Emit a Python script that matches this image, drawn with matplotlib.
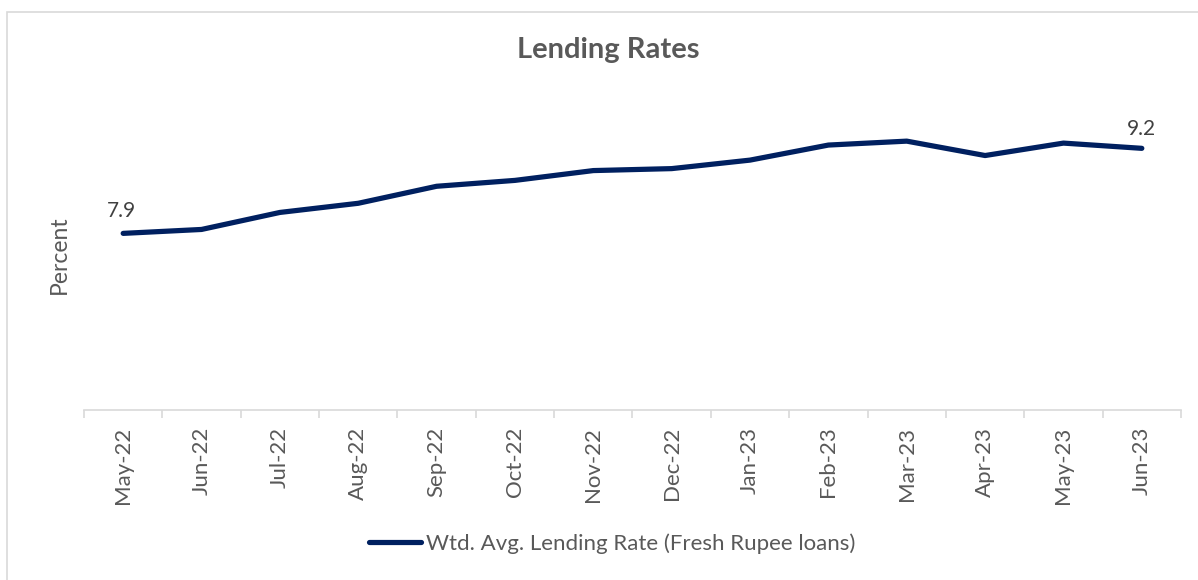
import matplotlib
matplotlib.use('Agg')

import matplotlib.pyplot as plt
from matplotlib.patches import Rectangle

# 데이터
months = ['May-22', 'Jun-22', 'Jul-22', 'Aug-22', 'Sep-22', 'Oct-22', 'Nov-22',
          'Dec-22', 'Jan-23', 'Feb-23', 'Mar-23', 'Apr-23', 'May-23', 'Jun-23']
walr_fresh = [7.90, 7.96, 8.22, 8.36, 8.62, 8.71, 8.86,
              8.89, 9.02, 9.25, 9.31, 9.09, 9.28, 9.20]
series_name = 'Wtd. Avg. Lending Rate (Fresh Rupee loans)'

plt.rcParams['font.family'] = ['Lato', 'DejaVu Sans']
text_gray = '#595959'
axis_gray = '#d9d9d9'
line_color = '#002060'

fig = plt.figure(figsize=(11.98, 5.80), dpi=100)
ax = fig.add_axes([84 / 1198, 1 - 410 / 580, (1181 - 84) / 1198, (410 - 96) / 580])

x = list(range(len(months)))
ax.plot(x, walr_fresh, color=line_color, linewidth=3.75, solid_capstyle='round',
        label=series_name)

# 처음과 마지막 값 라벨
ax.annotate(f'{walr_fresh[0]:.1f}', (x[0], walr_fresh[0]), xytext=(-1, 9),
            textcoords='offset points', ha='center', va='bottom',
            fontsize=15, color='#404040')
ax.annotate(f'{walr_fresh[-1]:.1f}', (x[-1], walr_fresh[-1]), xytext=(0, 7),
            textcoords='offset points', ha='center', va='bottom',
            fontsize=15, color='#404040')

ax.set_xlim(-0.5, len(months) - 0.5)
ax.set_ylim(5.2, 10.0)

ax.set_xticks(x)
ax.set_xticklabels(months, rotation=90, fontsize=16, color=text_gray)
ax.set_xticks([i - 0.5 for i in range(len(months) + 1)], minor=True)
ax.tick_params(axis='x', which='major', length=0, pad=12)
ax.tick_params(axis='x', which='minor', length=6, width=1.2, color=axis_gray)
ax.set_yticks([])

for side in ['top', 'right', 'left']:
    ax.spines[side].set_visible(False)
ax.spines['bottom'].set_color(axis_gray)
ax.spines['bottom'].set_linewidth(1.2)

ax.set_ylabel('Percent', fontsize=16.5, color=text_gray)
ax.yaxis.set_label_coords(-0.013, 0.495)

fig.text(0.508, 0.914, 'Lending Rates', ha='center', va='center',
         fontsize=21, fontweight='bold', color=text_gray)

leg = fig.legend(loc='center', bbox_to_anchor=(0.511, 0.063), frameon=False,
                 fontsize=16, handlelength=2.35, handletextpad=0.25)
for t in leg.get_texts():
    t.set_color(text_gray)

# 차트 테두리
fig.patches.append(Rectangle((7 / 1198, -0.1), 1.2, 1 - 12 / 580 + 0.1,
                             transform=fig.transFigure, fill=False,
                             edgecolor=axis_gray, linewidth=1.2))

plt.savefig('out.png', dpi=100)
plt.close()
